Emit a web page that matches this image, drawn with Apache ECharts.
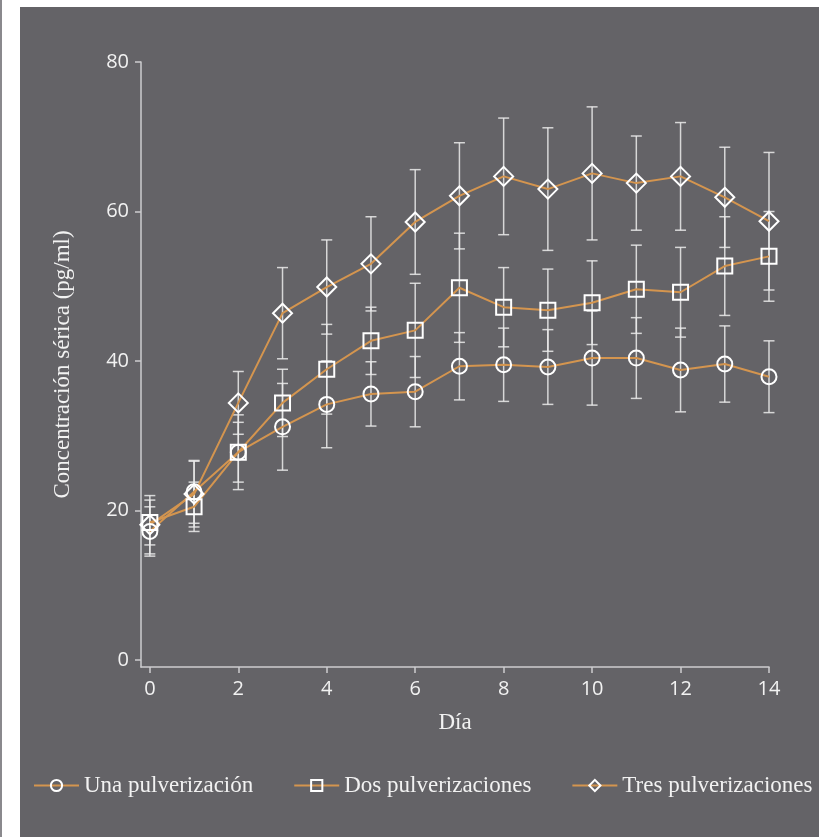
<!DOCTYPE html>
<html>
<head>
<meta charset="utf-8">
<script src="https://cdn.jsdelivr.net/npm/echarts@6/dist/echarts.min.js"></script>
<style>
  html, body { margin: 0; padding: 0; background: #ffffff; }
  #wrap { position: relative; width: 832px; height: 837px; overflow: hidden; }
  #edge { position: absolute; left: 0; top: 0; width: 2px; height: 837px; background: #8a898d; }
  #panel { position: absolute; left: 20px; top: 7px; width: 799px; height: 830px; background: #646367; }
  #chart { position: absolute; left: 0; top: 0; width: 832px; height: 837px; }
</style>
</head>
<body>
<div id="wrap">
  <div id="edge"></div>
  <div id="panel"></div>
  <div id="chart"></div>
</div>
<script>
// ---- data ----
const days = [0, 1, 2, 3, 4, 5, 6, 7, 8, 9, 10, 11, 12, 13, 14];
const seriesNames = ['Una pulverización', 'Dos pulverizaciones', 'Tres pulverizaciones'];
const una    = [17.2, 22.5, 27.8, 31.2, 34.2, 35.6, 35.9, 39.3, 39.5, 39.2, 40.4, 40.4, 38.8, 39.6, 37.9];
const unaSd  = [3.3, 4.2, 4.0, 5.8, 5.8, 4.3, 4.7, 4.5, 4.9, 5.0, 6.3, 5.4, 5.6, 5.1, 4.8];
const dos    = [18.4, 20.5, 27.8, 34.4, 38.9, 42.7, 44.1, 49.8, 47.2, 46.8, 47.8, 49.6, 49.2, 52.7, 54.0];
const dosSd  = [3.0, 3.3, 5.0, 4.5, 6.0, 4.5, 6.3, 7.3, 5.3, 5.5, 5.6, 5.9, 6.0, 6.6, 6.0];
const tres   = [18.1, 22.2, 34.4, 46.4, 49.9, 53.0, 58.6, 62.1, 64.7, 63.0, 65.1, 63.8, 64.7, 61.9, 58.7];
const tresSd = [3.9, 4.4, 4.2, 6.1, 6.3, 6.3, 7.0, 7.1, 7.8, 8.2, 8.9, 6.3, 7.2, 6.7, 9.2];
const xTicks = [0, 2, 4, 6, 8, 10, 12, 14];
const yTicks = [0, 20, 40, 60, 80];
const xTitle = 'Día';
const yTitle = 'Concentración sérica (pg/ml)';

// ---- styles ----
const lineColor = '#d4954f';
const axisColor = '#cdcdcf';
const textColor = '#f2f2f2';
const barColor = 'rgba(235,235,235,0.85)';
const serif = '"Liberation Serif", "Times New Roman", serif';
const sans = '"Open Sans", "Noto Sans", sans-serif';

function pairs(vals) { return days.map((d, i) => [d, vals[i]]); }
function bars(vals, sds) { return days.map((d, i) => [d, vals[i] - sds[i], vals[i] + sds[i]]); }

function errorSeries(vals, sds) {
  return {
    type: 'custom',
    silent: true,
    z: 1,
    data: bars(vals, sds),
    encode: { x: 0, y: [1, 2] },
    renderItem: function (params, api) {
      const x = api.value(0);
      const lo = api.coord([x, api.value(1)]);
      const hi = api.coord([x, api.value(2)]);
      const hw = 5.5;
      const st = { stroke: barColor, lineWidth: 1.5 };
      return {
        type: 'group',
        children: [
          { type: 'line', shape: { x1: lo[0], y1: lo[1], x2: hi[0], y2: hi[1] }, style: st },
          { type: 'line', shape: { x1: lo[0] - hw, y1: lo[1], x2: lo[0] + hw, y2: lo[1] }, style: st },
          { type: 'line', shape: { x1: hi[0] - hw, y1: hi[1], x2: hi[0] + hw, y2: hi[1] }, style: st }
        ]
      };
    }
  };
}

function lineSeries(name, vals, symbol, size) {
  return {
    type: 'line',
    name: name,
    z: 3,
    data: pairs(vals),
    symbol: symbol,
    symbolSize: size,
    showAllSymbol: true,
    lineStyle: { color: lineColor, width: 2 },
    itemStyle: { color: 'rgba(0,0,0,0)', borderColor: '#ffffff', borderWidth: 2 },
    emphasis: { disabled: true }
  };
}

const chart = echarts.init(document.getElementById('chart'), null, { renderer: 'canvas' });
chart.setOption({
  backgroundColor: 'transparent',
  animation: false,
  grid: { left: 141, right: 63, top: 62, bottom: 170, containLabel: false },
  xAxis: {
    type: 'value',
    min: -0.2,
    max: 14,
    name: xTitle,
    nameLocation: 'middle',
    nameGap: 44,
    nameTextStyle: { color: textColor, fontFamily: serif, fontSize: 23 },
    axisLine: { onZero: false, lineStyle: { color: axisColor, width: 1.5 } },
    axisTick: { show: true, length: 6, lineStyle: { color: axisColor, width: 1.5 }, customValues: xTicks },
    axisLabel: { color: textColor, fontFamily: sans, fontSize: 20, margin: 12, customValues: xTicks },
    splitLine: { show: false }
  },
  yAxis: {
    type: 'value',
    min: -0.93,
    max: 80,
    name: yTitle,
    nameLocation: 'middle',
    nameGap: 67,
    nameTextStyle: { color: textColor, fontFamily: serif, fontSize: 23 },
    axisLine: { show: true, onZero: false, lineStyle: { color: axisColor, width: 1.5 } },
    axisTick: { show: true, length: 6, lineStyle: { color: axisColor, width: 1.5 }, customValues: yTicks },
    axisLabel: { color: textColor, fontFamily: sans, fontSize: 20, margin: 12, customValues: yTicks },
    splitLine: { show: false }
  },
  legend: {
    left: 28,
    top: 769,
    itemWidth: 45,
    itemHeight: 14,
    itemGap: 40,
    data: seriesNames,
    textStyle: { color: textColor, fontFamily: serif, fontSize: 23 }
  },
  series: [
    errorSeries(una, unaSd),
    errorSeries(dos, dosSd),
    errorSeries(tres, tresSd),
    lineSeries(seriesNames[0], una, 'circle', 15),
    lineSeries(seriesNames[1], dos, 'rect', 15),
    lineSeries(seriesNames[2], tres, 'diamond', 19)
  ]
});
</script>
</body>
</html>
